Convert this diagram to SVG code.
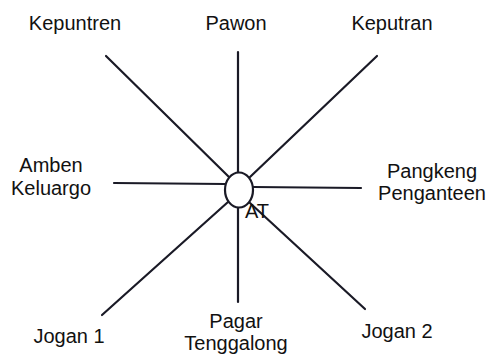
<svg xmlns="http://www.w3.org/2000/svg" width="491" height="361" viewBox="0 0 491 361">
<style>
.lbl{font-family:"Liberation Sans",Arial,sans-serif;font-size:20px;fill:#111;text-anchor:middle}
.ln{stroke:#1a1a26;stroke-width:2.2;fill:none;stroke-linecap:round}
</style>
<rect width="491" height="361" fill="#fff"/>
<g id="connectors">
<line class="ln" x1="106" y1="56" x2="229" y2="177"/>
<line class="ln" x1="238" y1="52" x2="238" y2="172"/>
<line class="ln" x1="377" y1="56" x2="250" y2="177"/>
<line class="ln" x1="114" y1="183" x2="225" y2="184"/>
<line class="ln" x1="253" y1="187" x2="361" y2="188"/>
<line class="ln" x1="102" y1="315" x2="228" y2="202"/>
<line class="ln" x1="238" y1="208" x2="238" y2="302"/>
<line class="ln" x1="365" y1="309" x2="250" y2="203"/>
</g>
<g id="center">
<ellipse cx="239" cy="190" rx="14" ry="17.5" fill="#fff" stroke="#1a1a26" stroke-width="2.2"/>
<text x="257" y="218" style="font-family:'Liberation Sans',Arial,sans-serif;font-size:20px;fill:#111;text-anchor:middle">AT</text>
</g>
<g id="kepuntren"><text class="lbl" x="75" y="30">Kepuntren</text></g>
<g id="pawon"><text class="lbl" x="236" y="30">Pawon</text></g>
<g id="keputran"><text class="lbl" x="392" y="30">Keputran</text></g>
<g id="amben"><text class="lbl" x="51" y="172">Amben</text><text class="lbl" x="51" y="195">Keluargo</text></g>
<g id="pangkeng"><text class="lbl" x="432" y="178">Pangkeng</text><text class="lbl" x="432" y="200">Penganteen</text></g>
<g id="jogan1"><text class="lbl" x="69" y="343">Jogan 1</text></g>
<g id="pagar"><text class="lbl" x="236" y="328">Pagar</text><text class="lbl" x="236" y="350">Tenggalong</text></g>
<g id="jogan2"><text class="lbl" x="397" y="338">Jogan 2</text></g>
</svg>
